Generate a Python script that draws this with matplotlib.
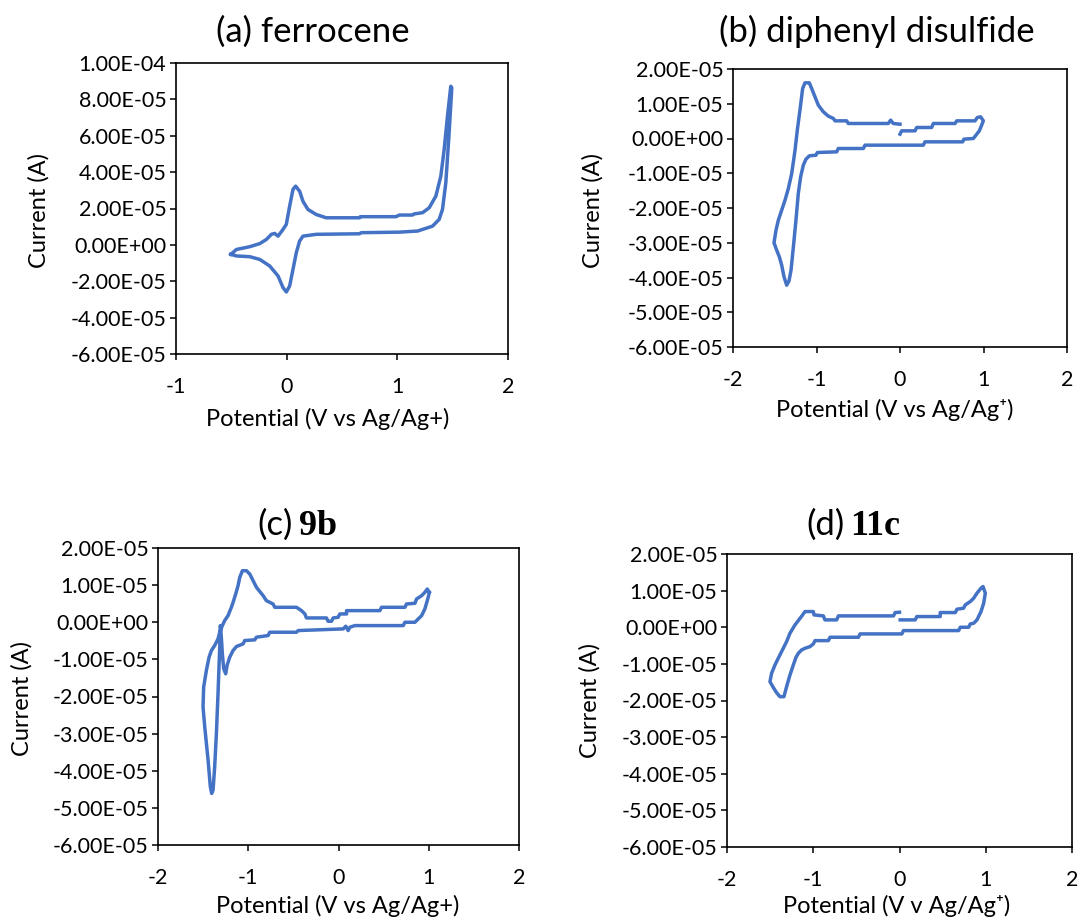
import numpy as np
import matplotlib
matplotlib.use("Agg")
import matplotlib.pyplot as plt
from matplotlib.ticker import FuncFormatter, MultipleLocator

plt.rcParams['font.family'] = ['Lato', 'DejaVu Sans']
plt.rcParams['axes.unicode_minus'] = False

# (a) ferrocene: potential (V) and current (uA)
fer_v = [-0.505, -0.453, -0.333, -0.243, -0.183, -0.138, -0.108, -0.078, -0.033, -0.003,
         0.027, 0.057, 0.081, 0.117, 0.147, 0.192, 0.267, 0.357, 0.66, 0.665, 0.988,
         1.018, 1.138, 1.15, 1.228, 1.288, 1.348, 1.393, 1.423, 1.453, 1.483,
         1.492, 1.468, 1.438, 1.408, 1.378, 1.318, 1.258, 1.183, 1.018, 0.673,
         0.658, 0.267, 0.147, 0.117, 0.087, 0.057, 0.027, -0.003, -0.033, -0.078,
         -0.153, -0.243, -0.333, -0.453, -0.505]
fer_i = [-5.2, -2.5, -1.0, 0.7, 3.0, 5.8, 6.3, 4.8, 8.5, 11.3,
         21.3, 30.5, 32.3, 29.5, 24.0, 19.5, 16.7, 14.9, 14.9, 15.5, 15.5,
         16.4, 16.4, 17.0, 17.7, 20.4, 26.8, 37.8, 52.4, 70.7, 87.2,
         86.3, 61.6, 34.1, 19.5, 14.0, 10.3, 9.1, 7.6, 7.0, 6.7,
         6.1, 5.8, 4.8, 2.1, -4.3, -13.5, -22.6, -25.9, -23.5, -17.1,
         -11.6, -8.0, -6.5, -6.1, -5.2]

# (b) diphenyl disulfide
dps_v = [0.0, 0.02, 0.18, 0.20, 0.379, 0.399, 0.659, 0.679, 0.898, 0.926, 0.966, 0.998,
         0.978, 0.950, 0.910, 0.878, 0.766, 0.750, 0.299, 0.279, -0.419, -0.439, -0.739,
         -0.758, -0.990, -1.006, -1.086, -1.126, -1.158, -1.190, -1.218, -1.246, -1.277,
         -1.305, -1.329, -1.357, -1.389, -1.417, -1.445, -1.477, -1.509, -1.485, -1.457,
         -1.417, -1.377, -1.337, -1.297, -1.257, -1.230, -1.198, -1.166, -1.138, -1.086,
         -1.058, -1.018, -0.978, -0.918, -0.858, -0.798, -0.778, -0.639, -0.619, -0.140,
         -0.112, -0.080, 0.0]
dps_i = [1.25, 2.2, 2.2, 3.17, 3.17, 4.32, 4.32, 5.08, 5.08, 6.04, 6.24, 5.08,
         3.84, 2.21, 0.96, 0.0, -0.19, -0.96, -0.96, -1.92, -1.92, -2.88, -2.88,
         -3.84, -4.03, -4.80, -4.99, -5.95, -7.67, -11.03, -15.83, -23.50, -31.18,
         -37.89, -40.96, -42.21, -39.81, -36.45, -34.05, -32.13, -30.02, -26.38, -23.50,
         -20.62, -17.75, -14.39, -10.07, -3.36, 2.40, 8.15, 14.39, 16.02, 16.02,
         14.39, 11.99, 9.59, 7.67, 6.43, 5.76, 5.08, 5.08, 4.32, 4.32,
         5.28, 4.32, 4.12]

# (c) 9b
b9_v = [1.006, 0.994, 0.957, 0.921, 0.865, 0.847, 0.736, 0.717, 0.181, 0.126, 0.107,
        0.081, 0.052, -0.447, -0.466, -0.762, -0.780, -0.909, -0.928, -1.039, -1.057,
        -1.131, -1.168, -1.205, -1.235, -1.250, -1.272, -1.287, -1.298, -1.309, -1.316,
        -1.335, -1.353, -1.372, -1.390, -1.405, -1.420, -1.445, -1.482, -1.501, -1.494,
        -1.464, -1.434, -1.408, -1.372, -1.335, -1.316, -1.287, -1.261, -1.224, -1.187,
        -1.168, -1.139, -1.113, -1.094, -1.065, -1.020, -0.983, -0.909, -0.835, -0.799,
        -0.725, -0.706, -0.466, -0.410, -0.373, -0.355, -0.133, -0.115, -0.078, -0.059,
        -0.004, 0.015, 0.089, 0.089, 0.458, 0.477, 0.736, 0.754, 0.847, 0.865, 0.921,
        0.957, 0.983, 1.006]
b9_i = [8.06, 6.71, 3.58, 1.79, 0.45, 0.0, 0.0, -0.90, -0.90, -1.34, -2.24,
        -1.07, -1.79, -2.24, -2.69, -2.69, -3.58, -4.03, -4.74, -4.92, -5.82,
        -6.54, -7.61, -9.40, -11.64, -13.88, -12.53, -8.50, -4.03, -0.90, -6.71,
        -19.25, -29.99, -38.94, -45.21, -46.11, -44.32, -37.15, -28.20, -22.83, -17.46,
        -12.98, -9.40, -7.61, -6.27, -4.48, -2.69, -0.90, 0.45, 1.79, 4.03,
        5.37, 7.61, 9.85, 12.09, 13.88, 13.88, 12.98, 9.40, 7.16, 5.82,
        4.92, 4.03, 4.03, 3.13, 2.24, 1.16, 1.16, 0.27, 0.27, 1.16,
        1.34, 2.24, 2.24, 3.13, 3.13, 4.03, 4.03, 4.92, 5.10, 6.27, 7.16,
        8.06, 8.95, 8.06]

# (d) 11c
c11_v = [0.008, 0.182, 0.201, 0.472, 0.472, 0.647, 0.666, 0.743, 0.763, 0.821, 0.860,
         0.898, 0.945, 0.968, 0.995, 0.976, 0.945, 0.898, 0.860, 0.821, 0.802, 0.705,
         0.685, 0.046, 0.027, -0.457, -0.476, -0.805, -0.825, -0.980, -0.999, -1.038,
         -1.096, -1.135, -1.173, -1.200, -1.231, -1.270, -1.309, -1.340, -1.386, -1.425,
         -1.464, -1.502, -1.483, -1.444, -1.406, -1.367, -1.309, -1.270, -1.212, -1.173,
         -1.123, -1.096, -0.999, -0.991, -0.883, -0.864, -0.728, -0.709, -0.070, -0.050,
         0.0]
c11_i = [2.01, 2.01, 2.92, 2.92, 4.01, 4.01, 4.92, 5.20, 6.11, 7.02, 7.93,
         9.30, 10.67, 11.12, 9.30, 6.56, 4.28, 2.01, 1.09, 0.91, 0.0, 0.0,
         -0.91, -0.91, -1.82, -1.82, -2.73, -2.73, -3.65, -3.65, -4.56, -5.29,
         -5.74, -6.20, -7.11, -8.20, -10.30, -13.04, -16.23, -18.96, -18.96, -17.87,
         -16.41, -14.86, -12.58, -10.30, -8.48, -6.65, -3.92, -1.64, 0.64, 1.82,
         3.37, 4.28, 4.28, 3.37, 3.10, 2.01, 2.01, 3.10, 3.10, 4.01,
         4.10]

W, H = 1078, 919
blue = '#4472C4'


def rect(l, t, r, b):
    return [l / W, 1 - b / H, (r - l) / W, (b - t) / H]


def fmt(v, pos):
    return '{:.2E}'.format(v)


def setup(ax, xlim, ylim, ystep):
    ax.set_xlim(*xlim)
    ax.set_ylim(*ylim)
    ax.xaxis.set_major_locator(MultipleLocator(1))
    ax.yaxis.set_major_locator(MultipleLocator(ystep))
    ax.yaxis.set_major_formatter(FuncFormatter(fmt))
    ax.tick_params(axis='both', direction='out', length=4.5, width=1.1,
                   labelsize=15.5, colors='black')
    ax.tick_params(axis='y', pad=2.5)
    ax.tick_params(axis='x', pad=12)
    for s in ax.spines.values():
        s.set_color('black')
        s.set_linewidth(1.2)


fig = plt.figure(figsize=(W / 100, H / 100), dpi=100)

axa = fig.add_axes(rect(176, 63, 508, 354))
axa.plot(fer_v, np.array(fer_i) * 1e-6, color=blue, lw=2.5)
setup(axa, (-1, 2), (-6e-5, 1e-4), 2e-5)

axb = fig.add_axes(rect(733, 69, 1067, 347))
axb.plot(dps_v, np.array(dps_i) * 1e-6, color=blue, lw=2.5)
setup(axb, (-2, 2), (-6e-5, 2e-5), 1e-5)

axc = fig.add_axes(rect(158, 548, 519, 845))
axc.plot(b9_v, np.array(b9_i) * 1e-6, color=blue, lw=2.5)
setup(axc, (-2, 2), (-6e-5, 2e-5), 1e-5)

axd = fig.add_axes(rect(727, 554, 1072, 847))
axd.plot(c11_v, np.array(c11_i) * 1e-6, color=blue, lw=2.5)
setup(axd, (-2, 2), (-6e-5, 2e-5), 1e-5)

# titles
fig.text(313 / W, 1 - 42 / H, '(a) ferrocene', fontsize=25, ha='center', va='baseline')
fig.text(877 / W, 1 - 42 / H, '(b) diphenyl disulfide', fontsize=25, ha='center', va='baseline')
fig.text(293 / W, 1 - 535 / H, '(c)', fontsize=25, ha='right', va='baseline')
fig.text(299 / W, 1 - 535 / H, '9b', fontsize=26, ha='left', va='baseline',
         family='Liberation Serif', weight='bold')
fig.text(845 / W, 1 - 535 / H, '(d)', fontsize=25, ha='right', va='baseline')
fig.text(850 / W, 1 - 535 / H, '11c', fontsize=26, ha='left', va='baseline',
         family='Liberation Serif', weight='bold')

# axis labels
lab = 17
fig.text(328 / W, 1 - 426 / H, 'Potential (V vs Ag/Ag+)', fontsize=lab, ha='center', va='baseline')
fig.text(895 / W, 1 - 417 / H, 'Potential (V vs Ag/Ag\u207a)', fontsize=lab, ha='center', va='baseline')
fig.text(338 / W, 1 - 913 / H, 'Potential (V vs Ag/Ag+)', fontsize=lab, ha='center', va='baseline')
fig.text(897 / W, 1 - 913 / H, 'Potential (V v Ag/Ag\u207a)', fontsize=lab, ha='center', va='baseline')
fig.text(39 / W, 1 - 210 / H, 'Current (A)', fontsize=lab, rotation=90, ha='center', va='center')
fig.text(593 / W, 1 - 210 / H, 'Current (A)', fontsize=lab, rotation=90, ha='center', va='center')
fig.text(22 / W, 1 - 698 / H, 'Current (A)', fontsize=lab, rotation=90, ha='center', va='center')
fig.text(590 / W, 1 - 700 / H, 'Current (A)', fontsize=lab, rotation=90, ha='center', va='center')

fig.savefig('out.png', dpi=100)
